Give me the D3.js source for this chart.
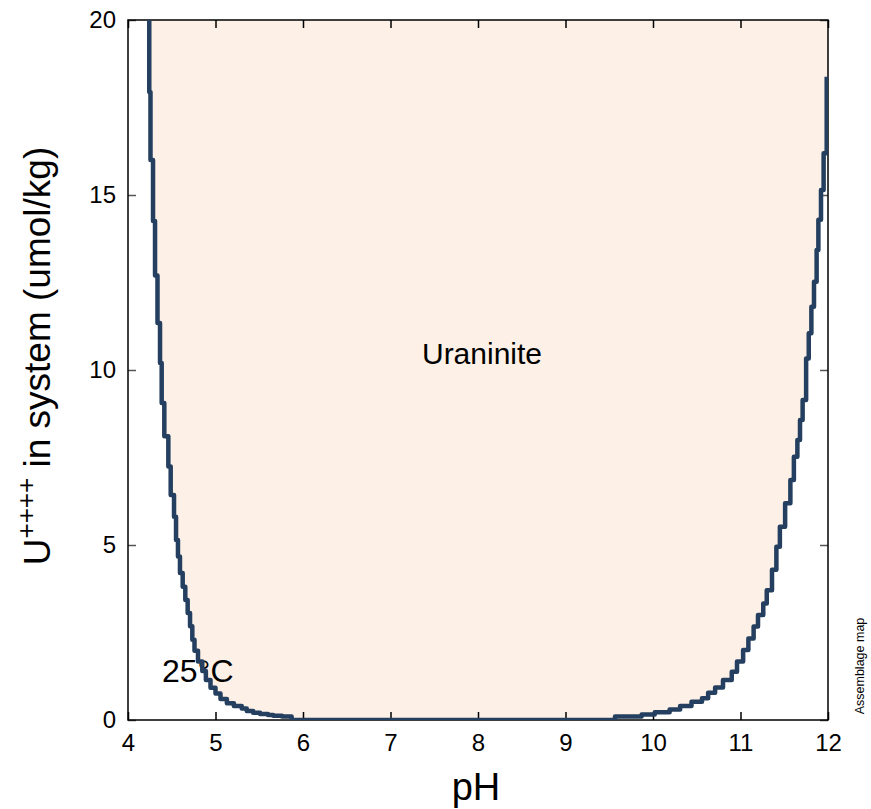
<!DOCTYPE html>
<html>
<head>
<meta charset="utf-8">
<script src="https://cdn.jsdelivr.net/npm/d3@7"></script>
<style>
  html, body { margin: 0; padding: 0; background: #ffffff; }
  svg { display: block; font-family: Arial, "Liberation Sans", Helvetica, sans-serif; }
</style>
</head>
<body>
<svg id="chart" width="871" height="809"></svg>
<script>
// ---- Data ----
const xDomain = [4, 12];
const yDomain = [0, 20];
const xTicks = [4, 5, 6, 7, 8, 9, 10, 11, 12];
const yTicks = [0, 5, 10, 15, 20];

// Left (acid-side) boundary of the Uraninite field, descending
const leftPH = [4.243, 4.257, 4.286, 4.309, 4.337, 4.366, 4.385, 4.415, 4.461, 4.488, 4.526, 4.549, 4.571, 4.594, 4.625, 4.655, 4.682, 4.709, 4.735, 4.76, 4.80, 4.849, 4.89, 4.943, 5.0, 5.057, 5.13, 5.21, 5.30, 5.357, 5.43, 5.51, 5.60, 5.66, 5.76, 5.87, 5.89];
const leftU  = [20.0, 17.94, 16.0, 14.26, 12.7, 11.34, 10.2, 9.06, 8.11, 7.24, 6.43, 5.81, 5.14, 4.67, 4.2, 3.81, 3.43, 3.06, 2.68, 2.29, 1.98, 1.67, 1.40, 1.14, 0.92, 0.76, 0.60, 0.48, 0.40, 0.33, 0.26, 0.21, 0.17, 0.14, 0.12, 0.10, 0.0];

// Right (alkaline-side) boundary, ascending
const rightPH = [9.566, 9.566, 9.87, 10.02, 10.19, 10.31, 10.44, 10.56, 10.63, 10.71, 10.80, 10.90, 10.96, 11.03, 11.09, 11.15, 11.20, 11.26, 11.30, 11.36, 11.41, 11.45, 11.51, 11.57, 11.61, 11.65, 11.68, 11.71, 11.75, 11.78, 11.81, 11.84, 11.87, 11.89, 11.92, 11.95, 11.985, 11.985];
const rightU  = [0.0, 0.10, 0.16, 0.22, 0.30, 0.40, 0.52, 0.62, 0.78, 0.93, 1.14, 1.38, 1.67, 2.0, 2.33, 2.67, 3.0, 3.33, 3.71, 4.29, 4.95, 5.52, 6.19, 6.86, 7.52, 8.0, 8.57, 9.14, 10.33, 11.05, 11.81, 12.52, 13.43, 14.29, 15.14, 16.19, 17.24, 18.38];

const fieldLabel = "Uraninite";
const tempLabel = "25°C";
const xTitle = "pH";
const yTitleMain = "U";
const yTitleSup = "++++";
const yTitleRest = " in system (umol/kg)";
const sideNote = "Assemblage map";

(function () {
// ---- Layout ----
const svg = d3.select("#chart");
const mL = 128, mR = 828, mT = 20, mB = 720;
const x = d3.scaleLinear().domain(xDomain).range([mL, mR]);
const y = d3.scaleLinear().domain(yDomain).range([mB, mT]);

const leftPts = leftPH.map((p, i) => [p, leftU[i]]);
const rightPts = rightPH.map((p, i) => [p, rightU[i]]);

const lineL = d3.line().x(d => x(d[0])).y(d => y(d[1])).curve(d3.curveStepBefore);
const lineR = d3.line().x(d => x(d[0])).y(d => y(d[1])).curve(d3.curveStepAfter);

const dL = lineL(leftPts);
const dR = lineR(rightPts);
const boundary = dL + dR.replace(/^M/, "L");
const fillPath = boundary +
  "L" + x(xDomain[1]) + "," + y(rightU[rightU.length - 1]) +
  "L" + x(xDomain[1]) + "," + y(yDomain[1]) + "Z";

const defs = svg.append("defs");
defs.append("clipPath").attr("id", "plotclip")
  .append("rect").attr("x", mL).attr("y", mT).attr("width", mR - mL).attr("height", mB - mT);

// Field fill
svg.append("g").attr("clip-path", "url(#plotclip)")
  .append("path").attr("d", fillPath).attr("fill", "#fcf0e7").attr("stroke", "none");

// Axes
const tickFont = 24;
const gx = svg.append("g").attr("transform", `translate(0,${mB})`)
  .call(d3.axisBottom(x).tickValues(xTicks).tickFormat(d3.format("d")).tickSize(-8).tickPadding(14));
const gy = svg.append("g").attr("transform", `translate(${mL},0)`)
  .call(d3.axisLeft(y).tickValues(yTicks).tickFormat(d3.format("d")).tickSize(-8).tickPadding(12));
const gt = svg.append("g").attr("transform", `translate(0,${mT})`)
  .call(d3.axisTop(x).tickValues(xTicks).tickFormat("").tickSize(-8));
const gr = svg.append("g").attr("transform", `translate(${mR},0)`)
  .call(d3.axisRight(y).tickValues(yTicks).tickFormat("").tickSize(-8));

[gx, gy, gt, gr].forEach(g => {
  g.select(".domain").remove();
  g.selectAll("text").attr("font-size", tickFont).attr("font-family", "Arial, 'Liberation Sans', sans-serif").attr("fill", "#000");
});
gx.selectAll(".tick line").attr("stroke", "#000").attr("stroke-width", 1.5);
gt.selectAll(".tick line").attr("stroke", "#000").attr("stroke-width", 1.5);
gy.selectAll(".tick line").attr("stroke", "#555").attr("stroke-width", 1.5);
gr.selectAll(".tick line").attr("stroke", "#555").attr("stroke-width", 1.5);

// Frame
svg.append("rect").attr("x", mL).attr("y", mT).attr("width", mR - mL).attr("height", mB - mT)
  .attr("fill", "none").attr("stroke", "#000").attr("stroke-width", 1.5);

// Labels inside the plot (under the boundary line)
svg.append("text").attr("x", 482).attr("y", 364).attr("text-anchor", "middle")
  .attr("font-size", 30).attr("fill", "#000").text(fieldLabel);
svg.append("text").attr("x", 162).attr("y", 682).attr("text-anchor", "start")
  .attr("font-size", 32).attr("fill", "#000").text(tempLabel);

// Boundary line
defs.append("clipPath").attr("id", "lineclip")
  .append("rect").attr("x", mL).attr("y", mT).attr("width", mR - mL).attr("height", mB - mT);
svg.append("g").attr("clip-path", "url(#lineclip)")
  .append("path").attr("d", boundary).attr("fill", "none")
  .attr("stroke", "#243f5f").attr("stroke-width", 4.5).attr("stroke-linejoin", "round");

// Axis titles
svg.append("text").attr("x", 476).attr("y", 800).attr("text-anchor", "middle")
  .attr("font-size", 38).attr("fill", "#000").text(xTitle);

const yt = svg.append("text").attr("transform", "translate(50,356) rotate(-90)")
  .attr("text-anchor", "middle").attr("font-size", 37).attr("fill", "#000");
yt.append("tspan").text(yTitleMain);
yt.append("tspan").attr("font-size", 26).attr("dy", -15).text(yTitleSup);
yt.append("tspan").attr("dy", 15).text(yTitleRest);

svg.append("text").attr("transform", "translate(864,666) rotate(-90)")
  .attr("text-anchor", "middle").attr("font-size", 12.5).attr("fill", "#000").text(sideNote);
})();
</script>
</body>
</html>
